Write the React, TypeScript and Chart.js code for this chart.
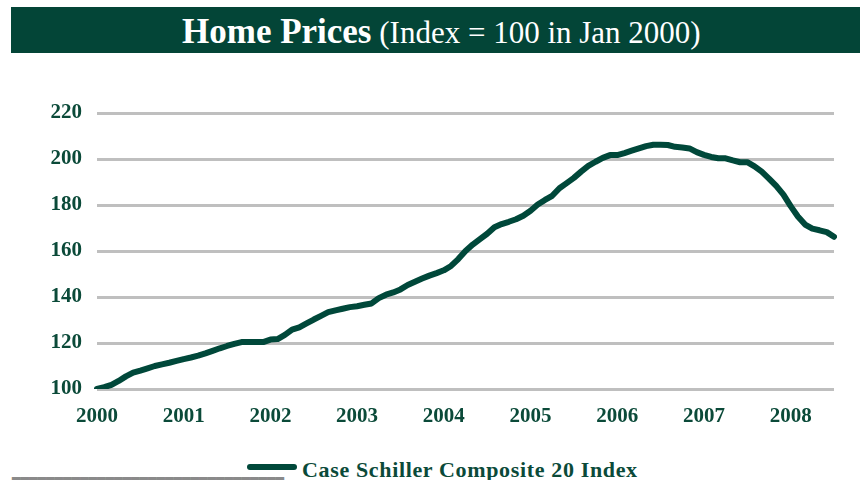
import React, { useEffect, useRef } from "react";
import { Chart, registerables } from "chart.js";

Chart.register(...registerables);

// Year tick labels (January of each year)
const yearLabels = ["2000", "2001", "2002", "2003", "2004", "2005", "2006", "2007", "2008"];
const monthNames = ["Jan", "Feb", "Mar", "Apr", "May", "Jun", "Jul", "Aug", "Sep", "Oct", "Nov", "Dec"];

// Case Schiller Composite 20 Index, monthly, Jan 2000 .. Jul 2008
const indexValues = [
  // 2000
  100.0, 100.8, 101.8, 103.5, 105.5, 107.1, 108.0, 109.0, 110.0, 110.7, 111.4, 112.2,
  // 2001
  113.0, 113.7, 114.5, 115.5, 116.6, 117.7, 118.7, 119.6, 120.4, 120.4, 120.4, 120.4,
  // 2002
  121.5, 121.7, 123.5, 125.8, 126.8, 128.5, 130.2, 131.8, 133.4, 134.2, 134.9, 135.6,
  // 2003
  136.0, 136.6, 137.2, 139.5, 141.0, 142.0, 143.3, 145.2, 146.6, 148.0, 149.3, 150.4,
  // 2004
  151.6, 153.5, 156.5, 160.0, 162.8, 165.2, 167.5, 170.3, 171.7, 172.7, 173.8, 175.3,
  // 2005
  177.5, 180.2, 182.2, 184.0, 187.3, 189.5, 191.8, 194.5, 197.0, 198.8, 200.5, 201.7,
  // 2006
  201.7, 202.6, 203.6, 204.6, 205.6, 206.2, 206.2, 206.1, 205.3, 205.0, 204.6, 203.0,
  // 2007
  201.8, 200.9, 200.3, 200.3, 199.4, 198.6, 198.6, 196.8, 194.5, 191.5, 188.3, 184.5,
  // 2008
  179.5, 175.0, 171.5, 169.7, 169.0, 168.2, 166.2,
];

const seriesName = "Case Schiller Composite 20 Index";
const yMin = 100;
const yMax = 220;
const yStep = 20;

const categories: string[] = [];
for (const y of yearLabels) {
  for (const m of monthNames) {
    if (categories.length < indexValues.length) categories.push(m + " " + y);
  }
}

const GREEN = "#034537";
const LINE = "#00483a";
const TEXT = "#0b4a39";
const SERIF = "'Liberation Serif', 'Times New Roman', serif";

export default function App() {
  const canvasRef = useRef<HTMLCanvasElement | null>(null);

  useEffect(() => {
    if (!canvasRef.current) return;
    const chart = new Chart(canvasRef.current, {
      type: "line",
      data: {
        labels: categories,
        datasets: [
          {
            label: seriesName,
            data: indexValues,
            borderColor: LINE,
            backgroundColor: LINE,
            borderWidth: 6,
            pointRadius: 0,
            tension: 0,
            borderCapStyle: "round",
            borderJoinStyle: "round",
            fill: false,
          },
        ],
      },
      options: {
        responsive: false,
        animation: false,
        devicePixelRatio: 1,
        layout: { padding: { left: 0, right: 26, top: 53, bottom: 0 } },
        plugins: {
          legend: { display: false },
          title: { display: false },
          tooltip: { enabled: false },
        },
        scales: {
          x: {
            type: "category",
            offset: false,
            afterFit: (s: any) => {
              s.height = 53;
            },
            grid: { display: false, drawTicks: false },
            border: { display: false },
            ticks: {
              autoSkip: false,
              maxRotation: 0,
              minRotation: 0,
              padding: 15,
              color: TEXT,
              font: { family: SERIF, size: 21, weight: "bold" },
              callback: (_v: any, idx: number) => (idx % 12 === 0 ? yearLabels[idx / 12] : null),
            },
          },
          y: {
            min: yMin,
            max: yMax,
            afterFit: (s: any) => {
              s.width = 97;
            },
            grid: { color: "#bfbfbf", lineWidth: 3, drawTicks: false },
            border: { display: false },
            ticks: {
              stepSize: yStep,
              padding: 15,
              color: TEXT,
              font: { family: SERIF, size: 21, weight: "bold" },
            },
          },
        },
      },
    });
    return () => chart.destroy();
  }, []);

  return (
    <div style={{ position: "absolute", left: 0, top: 0, width: 860, height: 480, background: "#fff", overflow: "hidden" }}>
      <div style={{ position: "absolute", left: 11, top: 7, width: 849, height: 46, background: GREEN }} />
      <div
        style={{
          position: "absolute",
          left: 182,
          top: 14,
          whiteSpace: "nowrap",
          color: "#fff",
          fontFamily: SERIF,
          fontSize: 35,
          lineHeight: "35px",
        }}
      >
        <span style={{ fontWeight: "bold" }}>Home Prices</span>
        <span style={{ fontSize: 31 }}> (Index = 100 in Jan 2000)</span>
      </div>
      <canvas ref={canvasRef} width={860} height={382} style={{ position: "absolute", left: 0, top: 60, width: 860, height: 382 }} />
      <div
        style={{
          position: "absolute",
          left: 12,
          top: 462,
          whiteSpace: "nowrap",
          color: "#8a8a8a",
          fontFamily: SERIF,
          fontWeight: "bold",
          fontSize: 17,
          lineHeight: "17px",
          textShadow: "0 1px 0 #8a8a8a, 0 2px 0 #8a8a8a",
        }}
      >
        ________________________________
      </div>
      <div style={{ position: "absolute", left: 247, top: 464, width: 50, height: 6, borderRadius: 3, background: LINE }} />
      <div
        style={{
          position: "absolute",
          left: 302,
          top: 459,
          whiteSpace: "nowrap",
          color: TEXT,
          fontFamily: SERIF,
          fontWeight: "bold",
          fontSize: 22,
          lineHeight: "22px",
          letterSpacing: "0.65px",
        }}
      >
        {seriesName}
      </div>
    </div>
  );
}
